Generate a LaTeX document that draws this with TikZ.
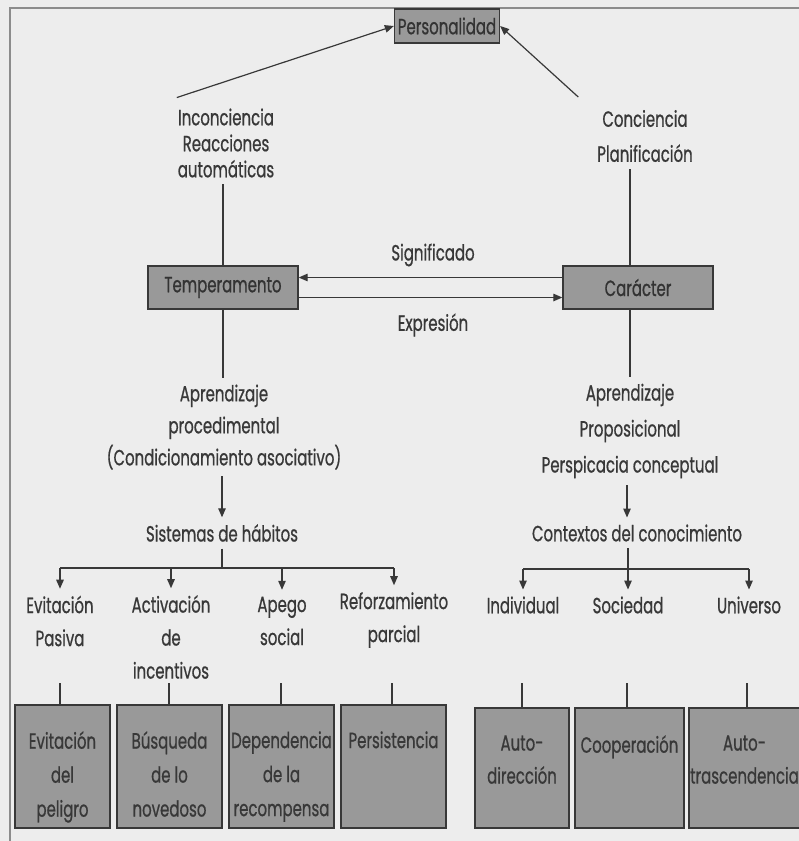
\documentclass[tikz,border=0pt]{standalone}
\usepackage{fontspec}
\setmainfont{Poppins}[FakeStretch=0.68,FakeBold=0.7]
\usetikzlibrary{arrows.meta,positioning}
\definecolor{paper}{gray}{0.93}
\definecolor{boxgray}{gray}{0.6}
\definecolor{inkgray}{gray}{0.22}
\tikzset{
  concept/.style={draw=inkgray, line width=1.3pt, fill=boxgray, inner sep=0pt,
                  font=\fontsize{22}{25}\selectfont, text=black!80},
  traitbox/.style={concept, minimum height=123pt},
  lbl/.style={font=\fontsize{22}{26}\selectfont, text=black!78, align=center,
              inner sep=0pt, outer sep=7pt},
  conn/.style={draw=inkgray, line width=1.2pt},
  arr/.style={conn, -{Triangle[length=9pt,width=7.5pt]}},
}

\begin{document}
\begin{tikzpicture}[x=1pt,y=-1pt]
\fill[paper] (0,0) rectangle (799,841);
\useasboundingbox (0,0) rectangle (799,841);
% page edge
\draw[black!45, line width=1.5pt] (10,841) -- (10,8) -- (799,8);

% top
\node[concept, minimum width=105pt, minimum height=34pt] (pers) at (447,26) {Personalidad};
\node[lbl] (incon) at (226,143) {Inconciencia\\Reacciones\\automáticas};
\node[lbl, font=\fontsize{22}{35}\selectfont] (conc) at (645,136) {Conciencia\\Planificación};
\draw[arr] ([shift={(6,-4)}]incon.north west) -- (pers.west);
\draw[arr] ([shift={(-12,-6)}]conc.north west) -- (pers.east);

% temperamento / caracter
\node[concept, minimum width=150pt, minimum height=43pt] (temp) at (223,287.5) {Temperamento};
\node[concept, minimum width=150pt, minimum height=43pt] (car) at (638,287.5) {Carácter};
\node[lbl] (sig) at (433,255) {Significado};
\node[lbl] (expr) at (433,325) {Expresión};
\draw[arr] ([yshift=10pt]car.west) -- ([yshift=10pt]temp.east);
\draw[arr] ([yshift=-10pt]temp.east) -- ([yshift=-10pt]car.west);
\draw[conn] (temp.north) -- (temp.north |- incon.south);
\draw[conn] ([xshift=-8pt]car.north) -- ([xshift=-8pt]car.north |- conc.south);

% aprendizaje
\node[lbl, font=\fontsize{22}{32}\selectfont] (aproc) at (224,427) {Aprendizaje\\procedimental\\(Condicionamiento asociativo)};
\node[lbl, font=\fontsize{22}{36}\selectfont] (aprop) at (630,431) {Aprendizaje\\Proposicional\\Perspicacia conceptual};
\draw[conn] (temp.south) -- (temp.south |- aproc.north);
\draw[conn] ([xshift=-8pt]car.south) -- ([xshift=-8pt]car.south |- aprop.north);

\node[lbl] (hab) at (222,533) {Sistemas de hábitos};
\node[lbl] (ctx) at (637,533) {Contextos del conocimiento};
\draw[arr] (hab.north |- aproc.south) -- (hab.north);
\draw[arr] ([xshift=-3pt]aprop.south) -- ([xshift=-3pt]aprop.south |- ctx.north);

% ramas
\node[lbl, font=\fontsize{22}{33}\selectfont] (evp) at (60,621) {Evitación\\Pasiva};
\node[lbl, font=\fontsize{22}{33}\selectfont] (act) at (171,637) {Activación\\de\\incentivos};
\node[lbl, font=\fontsize{22}{33}\selectfont] (apg) at (282,621) {Apego\\social};
\node[lbl, font=\fontsize{22}{33}\selectfont] (refz) at (394,620) {Reforzamiento\\parcial};
\node[lbl] (ind) at (523,605) {Individual};
\node[lbl] (soc) at (628,605) {Sociedad};
\node[lbl] (univ) at (749,605) {Universo};
\coordinate (hl) at (222,568);
\coordinate (hr) at (628,569);
\draw[conn] (hab.south) -- (hl);
\draw[conn] (soc |- ctx.south) -- (hr);
\draw[conn] (evp |- hl) -- (refz |- hl);
\draw[conn] (ind |- hr) -- (univ |- hr);
\foreach \n in {evp,act,apg,refz}{
  \draw[arr] (\n.north |- hl) -- (\n.north);
}
\foreach \n in {ind,soc,univ}{
  \draw[arr] (\n.north |- hr) -- (\n.north);
}

% rasgos
\node[traitbox, minimum width=95pt] (b1) at (62.5,766.5) {};
\node[traitbox, minimum width=105pt] (b2) at (169.5,766.5) {};
\node[traitbox, minimum width=105pt] (b3) at (281.5,766.5) {};
\node[traitbox, minimum width=105pt] (b4) at (393.5,766.5) {};
\node[traitbox, minimum width=94pt, minimum height=120pt] (b5) at (522,768) {};
\node[traitbox, minimum width=109pt, minimum height=120pt] (b6) at (629.5,768) {};
\node[traitbox, minimum width=111pt, minimum height=120pt] (b7) at (744.5,768) {};
\node[lbl, font=\fontsize{22}{34}\selectfont, below=20pt of b1.north] {Evitación\\del\\peligro};
\node[lbl, font=\fontsize{22}{34}\selectfont, below=20pt of b2.north] {Búsqueda\\de lo\\novedoso};
\node[lbl, font=\fontsize{22}{34}\selectfont, below=20pt of b3.north] {Dependencia\\de la\\recompensa};
\node[lbl, below=20pt of b4.north] {Persistencia};
\node[lbl, font=\fontsize{22}{33}\selectfont, below=21pt of b5.north] {Auto-\\dirección};
\node[lbl, below=21pt of b6.north] {Cooperación};
\node[lbl, font=\fontsize{22}{33}\selectfont, below=21pt of b7.north] {Auto-\\trascendencia};
\coordinate (top) at (0,683);
\foreach \b/\x in {b1/-2.5,b2/-0.5,b3/-0.5,b4/-1.5,b5/0,b6/-2.5,b7/2.5}{
  \draw[conn] ([xshift=\x pt]\b.north) -- ([xshift=\x pt]\b.north |- top);
}
\end{tikzpicture}
\end{document}
